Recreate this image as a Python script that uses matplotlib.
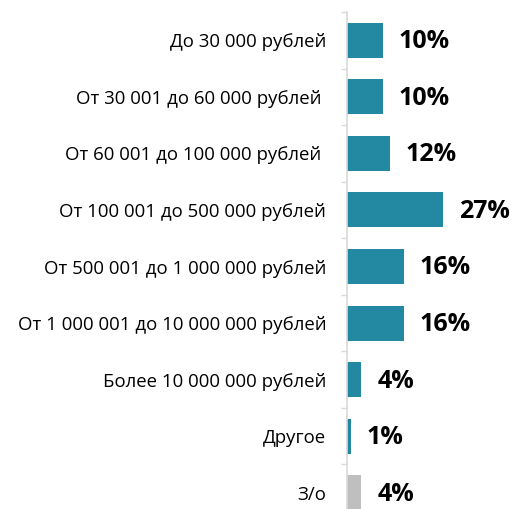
import matplotlib.pyplot as plt
import numpy as np

categories = [
    "До 30 000 рублей",
    "От 30 001 до 60 000 рублей ",
    "От 60 001 до 100 000 рублей ",
    "От 100 001 до 500 000 рублей",
    "От 500 001 до 1 000 000 рублей",
    "От 1 000 001 до 10 000 000 рублей",
    "Более 10 000 000 рублей",
    "Другое",
    "З/о",
]
shares = [10, 10, 12, 27, 16, 16, 4, 1, 4]
bar_colors = ["#2389a2"] * 8 + ["#bfbfbf"]

fig = plt.figure(figsize=(5.14, 5.09), dpi=100)
ax = fig.add_axes([347 / 514, -12 / 509, 167 / 514, 1.0])

y = np.arange(len(categories))
ax.barh(y, shares, height=0.62, color=bar_colors)
ax.set_ylim(len(categories) - 0.5, -0.5)
ax.set_xlim(0, 47)

for yi, v in zip(y, shares):
    ax.annotate(f"{v}%", xy=(v, yi), xytext=(11.5, -1), textcoords="offset points",
                va="center", ha="left", fontsize=18, fontweight="bold",
                family="Open Sans", color="black")

ax.set_yticks(y)
ax.set_yticklabels(categories, family="Open Sans", fontsize=13.4)
ax.set_yticks(np.arange(len(categories) + 1) - 0.5, minor=True)
ax.tick_params(axis="y", which="major", length=0, pad=15)
ax.tick_params(axis="y", which="minor", length=4, color="#d9d9d9", width=1)
ax.set_xticks([])

for side in ["top", "right", "bottom"]:
    ax.spines[side].set_visible(False)
ax.spines["left"].set_color("#d9d9d9")
ax.spines["left"].set_linewidth(1.2)

fig.savefig("out.png", dpi=100)
